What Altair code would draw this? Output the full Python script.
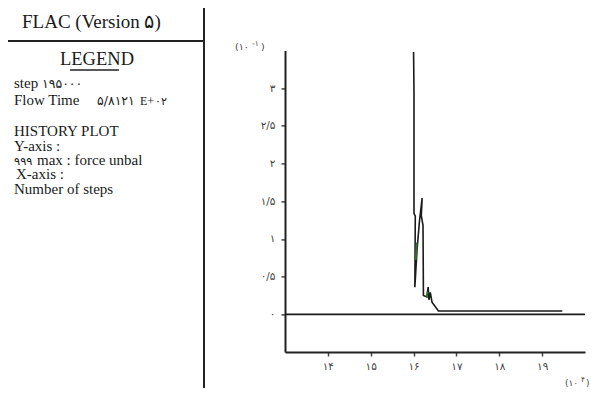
import altair as alt
import pandas as pd

# ---- data (x in 10^4 steps, y in 10^-1) ----
curve_x = [16.00, 16.01, 16.01, 16.04, 16.03, 16.08, 16.14, 16.20, 16.18, 16.22,
           16.23, 16.31, 16.34, 16.36, 16.39, 16.43, 16.58, 19.47]
curve_y = [3.48, 2.94, 1.34, 1.30, 0.36, 0.85, 1.25, 1.54, 1.31, 1.18,
           0.25, 0.23, 0.36, 0.19, 0.29, 0.16, 0.044, 0.044]

green_x = [16.05, 16.075, 16.31, 16.33]
green_y = [0.72, 0.95, 0.22, 0.30]
green_seg = [1, 1, 2, 2]

y_tick_values = [0, 0.5, 1, 1.5, 2, 2.5, 3]
y_tick_labels = ["۰", "۰/۵", "۱", "۱/۵", "۲", "۲/۵", "۳"]
x_tick_values = [14, 15, 16, 17, 18, 19]
x_tick_labels = ["۱۴", "۱۵", "۱۶", "۱۷", "۱۸", "۱۹"]

title_text = "FLAC (Version ۵)"
legend_title = "LEGEND"
step_word, step_value = "step", "۱۹۵۰۰۰"
flow_word, flow_value, flow_exp_e, flow_exp_d = "Flow Time", "۵/۸۱۲۱", "E+", "۰۲"
history_lines = ["HISTORY PLOT", "Y-axis :", "X-axis :", "Number of steps"]
hist_num, hist_rest = "۹۹۹", "max :  force  unbal"
y_unit = ("(۱۰", "-۱", ")")
x_unit = ("(۱۰", "۴", ")")

# ---- helpers ----
def label_expr(values, labels):
    expr = "''"
    for v, l in reversed(list(zip(values, labels))):
        expr = f"datum.value == {v} ? '{l}' : ({expr})"
    return expr

W, H = 300, 301.6
OX, OY = 285, 50.4  # page position of plot origin


def px(x):
    return x - OX


def py(y):
    return y - OY


one = pd.DataFrame({"a": [0]})
SERIF = "Liberation Serif"
SANS = "DejaVu Sans"
INK = "#1a1a1a"
GREY = "#444"

curve_df = pd.DataFrame({"x": curve_x, "y": curve_y, "o": list(range(len(curve_x)))})
green_df = pd.DataFrame({"x": green_x, "y": green_y, "s": green_seg})

xscale = alt.Scale(domain=[13, 20], nice=False, zero=False)
yscale = alt.Scale(domain=[-0.5, 3.5], nice=False, zero=False)

axis_common = dict(grid=False, domainColor="#222", domainWidth=2, tickColor=GREY,
                   tickSize=4, tickWidth=1.5, labelFont=SANS, labelFontSize=10.5,
                   labelColor=GREY, title=None)

line = alt.Chart(curve_df).mark_line(color=INK, strokeWidth=1.6).encode(
    x=alt.X("x:Q", scale=xscale,
            axis=alt.Axis(values=x_tick_values, labelExpr=label_expr(x_tick_values, x_tick_labels),
                          labelPadding=5, **axis_common)),
    y=alt.Y("y:Q", scale=yscale,
            axis=alt.Axis(values=y_tick_values, labelExpr=label_expr(y_tick_values, y_tick_labels),
                          labelPadding=6, **axis_common)),
    order="o:Q",
)

green = alt.Chart(green_df).mark_line(color="#2f6f2f", strokeWidth=1.8).encode(
    x=alt.X("x:Q", scale=xscale), y=alt.Y("y:Q", scale=yscale), detail="s:N")

zero = alt.Chart(pd.DataFrame({"y": [0]})).mark_rule(color=INK, strokeWidth=1.8).encode(
    y=alt.Y("y:Q", scale=yscale))

layers = [zero, line, green]

# left panel frame
layers.append(alt.Chart(one).mark_rule(color="#222", strokeWidth=2).encode(
    x=alt.value(px(204)), y=alt.value(py(0)), y2=alt.value(py(396))))
layers.append(alt.Chart(one).mark_rule(color="#222", strokeWidth=2).encode(
    x=alt.value(px(8)), x2=alt.value(px(204)), y=alt.value(py(41))))
layers.append(alt.Chart(one).mark_rule(color="#222", strokeWidth=1.3).encode(
    x=alt.value(px(70)), x2=alt.value(px(119)), y=alt.value(py(70))))


def text(t, x, y, size, align="left", font=SERIF, color=INK):
    return alt.Chart(one).mark_text(align=align, baseline="alphabetic", font=font,
                                    fontSize=size, color=color).encode(
        x=alt.value(px(x)), y=alt.value(py(y)), text=alt.value(t))


layers.append(text(title_text, 22, 28, 19))
layers.append(text(legend_title, 97, 65, 18.5, align="center"))

BODY = 15
layers.append(text(step_word, 14, 88, BODY))
layers.append(text(step_value, 42, 88, 12.5, font=SANS))
layers.append(text(flow_word, 14, 105, BODY))
layers.append(text(flow_value, 97, 105, 12.5, font=SANS))
layers.append(text(flow_exp_e, 140, 105, 12))
layers.append(text(flow_exp_d, 155, 105, 11, font=SANS))

layers.append(text(history_lines[0], 14, 136, BODY))
layers.append(text(history_lines[1], 14, 151, BODY))
layers.append(text(hist_num, 14, 165, 11.5, font=SANS))
layers.append(text(hist_rest, 37, 165, BODY))
layers.append(text(history_lines[2], 16, 179, BODY))
layers.append(text(history_lines[3], 14, 194, BODY))

# unit labels
layers.append(text(y_unit[0], 235, 50, 9.5, font=SANS, color=GREY))
layers.append(text(y_unit[1], 252, 46, 7.5, font=SANS, color=GREY))
layers.append(text(y_unit[2], 261, 50, 9.5, font=SANS, color=GREY))
layers.append(text(x_unit[0], 565, 386, 9, font=SANS, color=GREY))
layers.append(text(x_unit[1], 581, 382, 7.5, font=SANS, color=GREY))
layers.append(text(x_unit[2], 586, 386, 9, font=SANS, color=GREY))

chart = alt.layer(*layers).properties(
    width=W, height=H,
    autosize=alt.AutoSizeParams(type="none"),
    padding={"left": OX - 8, "top": OY - 8, "right": 6, "bottom": 36},
    background="white",
).configure_view(stroke=None)

chart.save("out.html", embed_options={"renderer": "svg", "actions": False})
